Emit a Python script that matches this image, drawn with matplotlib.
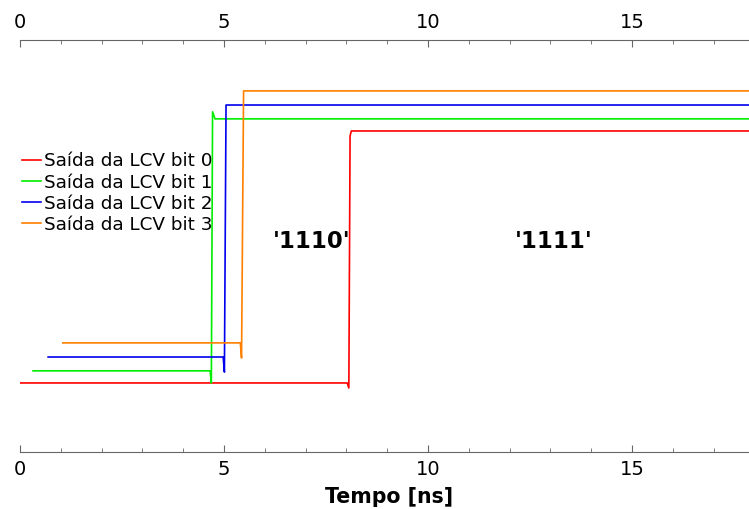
import matplotlib
matplotlib.use("Agg")
import matplotlib.pyplot as plt
from matplotlib.ticker import MultipleLocator

labels = ["Saída da LCV bit 0", "Saída da LCV bit 1", "Saída da LCV bit 2", "Saída da LCV bit 3"]
colors = ["#ff0000", "#00ee00", "#0000ee", "#ff8000"]

t_bit0 = [0.0, 8.02, 8.06, 8.09, 8.12, 18.5]
v_bit0 = [0.0, 0.0, -0.02, 0.98, 1.0, 1.0]

t_bit1 = [0.32, 4.66, 4.69, 4.72, 4.78, 18.5]
v_bit1 = [0.048, 0.048, 0.0, 1.076, 1.048, 1.048]

t_bit2 = [0.69, 4.98, 5.01, 5.05, 18.5]
v_bit2 = [0.103, 0.103, 0.043, 1.103, 1.103]

t_bit3 = [1.05, 5.40, 5.43, 5.48, 18.5]
v_bit3 = [0.159, 0.159, 0.099, 1.159, 1.159]

texts = ["'1110'", "'1111'"]
text_x = [7.16, 13.08]
text_y = [0.56, 0.56]

fig = plt.figure(figsize=(7.49, 5.09), dpi=100)
ax = fig.add_axes([20/749, 57/509, 738/749, 412/509])

series = [(t_bit0, v_bit0), (t_bit1, v_bit1), (t_bit2, v_bit2), (t_bit3, v_bit3)]
for (t, v), c, lab in zip(series, colors, labels):
    ax.plot(t, v, color=c, lw=1.2, label=lab)

for s, x, y in zip(texts, text_x, text_y):
    ax.text(x, y, s, fontsize=16.4, fontweight="bold", ha="center", va="center")

ax.set_xlim(0, 738/40.8)
ax.set_ylim(-0.274, 1.361)
ax.spines["left"].set_visible(False)
ax.spines["right"].set_visible(False)
for sp in ("top", "bottom"):
    ax.spines[sp].set_color("#666666")
ax.set_yticks([])
ax.xaxis.set_major_locator(MultipleLocator(5))
ax.xaxis.set_minor_locator(MultipleLocator(1))
ax.tick_params(axis="x", which="both", direction="in", top=True, bottom=True,
               labeltop=True, labelbottom=True, colors="#666666", labelcolor="black",
               labelsize=14, pad=6)
ax.tick_params(axis="x", which="major", length=5)
ax.tick_params(axis="x", which="minor", length=3)
ax.set_xlabel("Tempo [ns]", fontsize=14.8, fontweight="bold", labelpad=5.5)

leg = ax.legend(loc="upper left", bbox_to_anchor=(-0.007, 0.745), frameon=False,
                fontsize=13.2, handlelength=1.0, handletextpad=0.2, labelspacing=0.17,
                borderaxespad=0)

fig.savefig("out.png", dpi=100)
